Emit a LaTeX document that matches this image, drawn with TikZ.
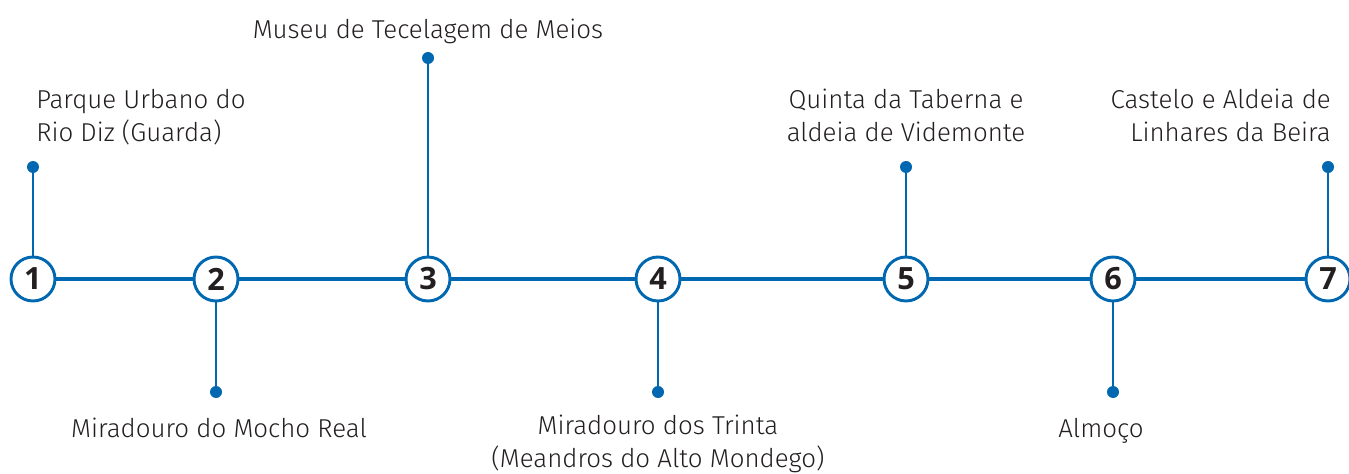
\documentclass[tikz,border=0pt]{standalone}
\usepackage{fontspec}
\setmainfont{Fira Sans}[UprightFont=* Light, BoldFont=* SemiBold]
\newfontfamily\numfont{Open Sans}[BoldFont=* Bold]
\definecolor{tlblue}{HTML}{0068B0}
\definecolor{numdark}{HTML}{231F20}
\definecolor{txtgray}{HTML}{231F20}
\begin{document}
\begin{tikzpicture}[x=0.75pt,y=-0.75pt,
  stop/.style={circle,draw=tlblue,line width=2.2pt,fill=white,minimum size=33pt,inner sep=0pt,
    font=\numfont\bfseries\fontsize{23}{23}\selectfont,text=numdark},
  stem/.style={draw=tlblue,line width=1.5pt},
  pin/.style={circle,fill=tlblue,minimum size=9pt,inner sep=0pt},
  lbl/.style={font=\fontsize{19.4}{24.8}\selectfont,text=txtgray,inner sep=0pt}]
\useasboundingbox (0,0) rectangle (1349,474);
\coordinate (s) at (33,279);
\coordinate (e) at (1328,279);
\draw[tlblue,line width=3.6pt] (s) -- (e);
\foreach \n/\x in {1/33,2/216,3/428,4/658,5/906,6/1113,7/1328}{
  \node[stop] (n\n) at (\x,279) {\n};
}
% pins
\node[pin] (p1) at (33,167) {};
\node[pin] (p2) at (216,392) {};
\node[pin] (p3) at (428,58) {};
\node[pin] (p4) at (658,392) {};
\node[pin] (p5) at (906,167) {};
\node[pin] (p6) at (1113,392) {};
\node[pin] (p7) at (1328,167) {};
\foreach \i in {1,...,7}{\draw[stem] (p\i.center) -- (n\i);}
% labels
\node[lbl,align=left,anchor=north west] (l1) at (36,89) {Parque Urbano do\\Rio Diz (Guarda)};
\node[lbl,anchor=north] (l3) at (428,19) {Museu de Tecelagem de Meios};
\node[lbl,align=center,anchor=north] (l5) at (906,89) {Quinta da Taberna e\\aldeia de Videmonte};
\node[lbl,align=right,anchor=north east] (l7) at (1331,89) {Castelo e Aldeia de\\Linhares da Beira};
\node[lbl,anchor=north] (l2) at (219,418) {Miradouro do Mocho Real};
\node[lbl,align=center,anchor=north] (l4) at (658,415) {Miradouro dos Trinta\\(Meandros do Alto Mondego)};
\node[lbl,anchor=north] (l6) at (1101,418) {Almoço};
\end{tikzpicture}
\end{document}
